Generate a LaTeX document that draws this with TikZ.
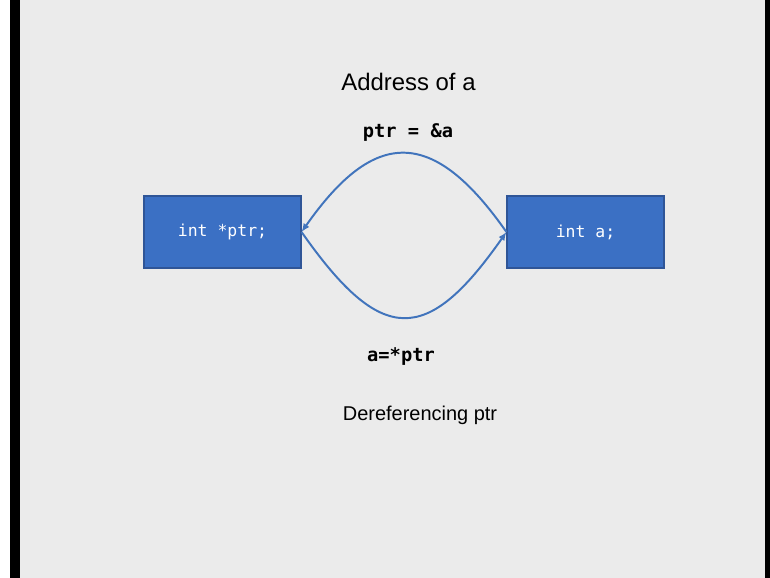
\documentclass[tikz,border=0pt]{standalone}
\usepackage{fontspec}
\setmainfont{Liberation Sans}
\setmonofont{DejaVu Sans Mono}
\usetikzlibrary{arrows.meta}
\definecolor{slidegray}{HTML}{EBEBEB}
\definecolor{boxblue}{HTML}{3B70C4}
\definecolor{boxedge}{HTML}{2F5597}
\definecolor{linkblue}{HTML}{4174BC}

\begin{document}
\begin{tikzpicture}[x=.025cm, y=-.025cm,
    varbox/.style={draw=boxedge, fill=boxblue, line width=.8pt,
        minimum width=3.925cm, minimum height=1.8cm, inner sep=0pt,
        text=white, font=\ttfamily\fontsize{11.7}{14}\selectfont},
    link/.style={linkblue, line width=1.4pt, -{Latex[length=6pt, width=5pt]}},
    heading/.style={anchor=base, font=\fontsize{17}{20}\selectfont},
    caption/.style={anchor=base, font=\fontsize{14.2}{17}\selectfont},
    code/.style={anchor=base, font=\ttfamily\bfseries\fontsize{13.3}{16}\selectfont}
        ]

    \path [use as bounding box] (0,0) rectangle (770,578);

    % slide and the dark frame edges
    \fill [white] (0,0) rectangle (10,578);
    \fill [black] (10,0) rectangle (20,578);
    \fill [slidegray] (20,0) rectangle (765,578);
    \fill [black] (765,0) rectangle (770,578);

    \node (ptr) [varbox] at (222.5,232) {int *ptr;};
    \node (a) [varbox] at (585.5,232) {int a;};

    \node (address) [heading] at (408.5,90.7) {Address of a};
    \node (assign) [code] at (408,137) {ptr = \&a};
    \node (deref) [code] at (401,361.5) {a=*ptr};
    \node (dereftext) [caption] at (420,420) {Dereferencing ptr};

    \draw [link] (a.west) to [out=125, in=55, looseness=1.6] (ptr.east);
    \draw [link] (ptr.east) to [out=-55, in=-125, looseness=1.74] (a.west);

\end{tikzpicture}
\end{document}
